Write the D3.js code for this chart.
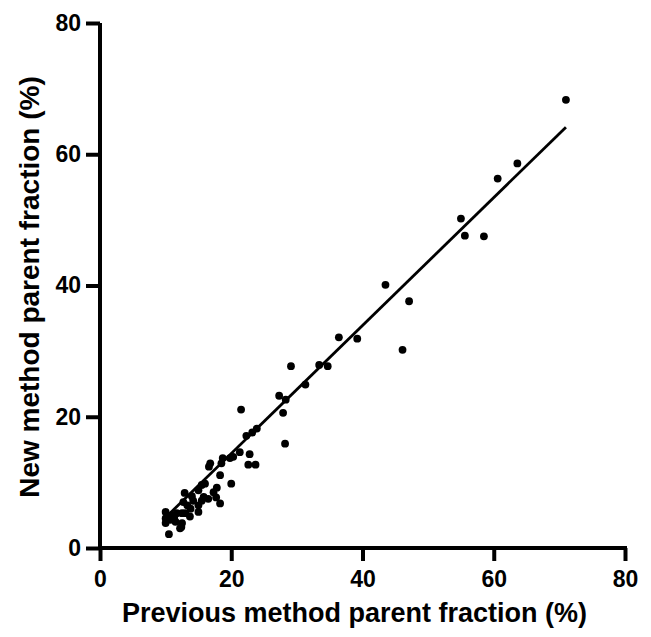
<!DOCTYPE html>
<html>
<head>
<meta charset="utf-8">
<script src="https://cdn.jsdelivr.net/npm/d3@7"></script>
<style>
  body { margin: 0; background: #fff; }
  text { font-family: "Liberation Sans", Arial, sans-serif; font-weight: bold; fill: #000; }
</style>
</head>
<body>
<div id="chart"></div>
<script>
// values
const previousFraction = [
    71.0, 63.6, 60.6, 55.0, 55.6, 58.5, 47.1, 46.1, 43.5, 36.4,
    39.2, 29.1, 33.4, 34.7, 31.3, 27.3, 28.3, 27.9, 28.2, 21.5,
    23.9, 23.2, 22.3, 21.3, 22.8, 20.3, 19.8, 18.7, 18.5, 16.8,
    16.6, 22.6, 23.7, 18.3, 20.0, 17.8, 17.3, 17.7, 18.3, 15.5,
    16.0, 15.0, 12.9, 14.0, 15.8, 15.5, 12.7, 13.3, 15.0, 15.0,
    10.0, 11.0, 11.7, 12.5, 13.0, 10.0, 10.7, 11.5, 10.0, 12.5,
    12.2, 10.5, 13.7, 12.4, 14.2, 16.5, 11.3, 13.8
];
const newFraction = [
    68.3, 58.6, 56.3, 50.2, 47.6, 47.5, 37.6, 30.2, 40.1, 32.1,
    31.9, 27.7, 27.9, 27.7, 24.9, 23.2, 22.6, 20.6, 15.9, 21.1,
    18.2, 17.6, 17.1, 14.6, 14.3, 13.9, 13.7, 13.7, 12.9, 12.9,
    12.4, 12.7, 12.7, 11.1, 9.8, 9.2, 8.5, 7.7, 6.8, 9.6,
    9.8, 8.8, 8.4, 7.9, 7.8, 7.2, 7.0, 6.5, 6.5, 5.5,
    5.5, 5.0, 5.3, 5.3, 5.3, 4.5, 4.3, 4.0, 3.8, 3.8,
    3.0, 2.1, 4.8, 3.2, 7.2, 7.5, 4.6, 6.0
];
const xTicks = [0, 20, 40, 60, 80];
const yTicks = [0, 20, 40, 60, 80];
// fitted line
const fitSlope = 0.975;
const fitIntercept = -5.1;
const fitRange = [10.0, 71.0];

const margin = {top: 23, right: 26, bottom: 89, left: 100},
    width = 651 - margin.left - margin.right,
    height = 637 - margin.top - margin.bottom;

let svg = d3.select("#chart")
    .append("svg")
    .attr("width", 651)
    .attr("height", 637);

let g = svg.append("g")
    .attr("transform", "translate(" + margin.left + "," + margin.top + ")");

let x = d3.scaleLinear().domain([0, 80]).range([0, width]);
let y = d3.scaleLinear().domain([0, 80]).range([height, 0]);

// axes
let xAxis = g.append("g")
    .attr("transform", "translate(0," + height + ")")
    .call(d3.axisBottom(x).tickValues(xTicks).tickSize(13).tickPadding(10));
let yAxis = g.append("g")
    .call(d3.axisLeft(y).tickValues(yTicks).tickSize(14).tickPadding(5));

[xAxis, yAxis].forEach(a => {
    a.select(".domain").attr("stroke", "#000").attr("stroke-width", 4);
    a.selectAll(".tick line").attr("stroke", "#000").attr("stroke-width", 4);
    a.selectAll(".tick text").style("font-size", "23px").style("font-family", "Liberation Sans, Arial, sans-serif").style("font-weight", "bold");
});
xAxis.select(".domain").attr("d", "M-2,0H" + (width + 2));
yAxis.select(".domain").attr("d", "M0,0V" + height);

// points
let pts = previousFraction.map((v, i) => ({x: v, y: newFraction[i]}));
g.append("g").selectAll("circle")
    .data(pts)
    .join("circle")
    .attr("cx", d => x(d.x))
    .attr("cy", d => y(d.y))
    .attr("r", 3.9)
    .attr("fill", "#000");

// regression line
g.append("line")
    .attr("x1", x(fitRange[0]))
    .attr("y1", y(fitSlope * fitRange[0] + fitIntercept))
    .attr("x2", x(fitRange[1]))
    .attr("y2", y(fitSlope * fitRange[1] + fitIntercept))
    .attr("stroke", "#000")
    .attr("stroke-width", 2.8);

// axis titles
svg.append("text")
    .attr("x", margin.left + width / 2 - 8)
    .attr("y", 622)
    .attr("text-anchor", "middle")
    .style("font-size", "27px")
    .text("Previous method parent fraction (%)");

svg.append("text")
    .attr("transform", "translate(39," + 287 + ") rotate(-90)")
    .attr("text-anchor", "middle")
    .style("font-size", "28px")
    .text("New method parent fraction (%)");
</script>
</body>
</html>
